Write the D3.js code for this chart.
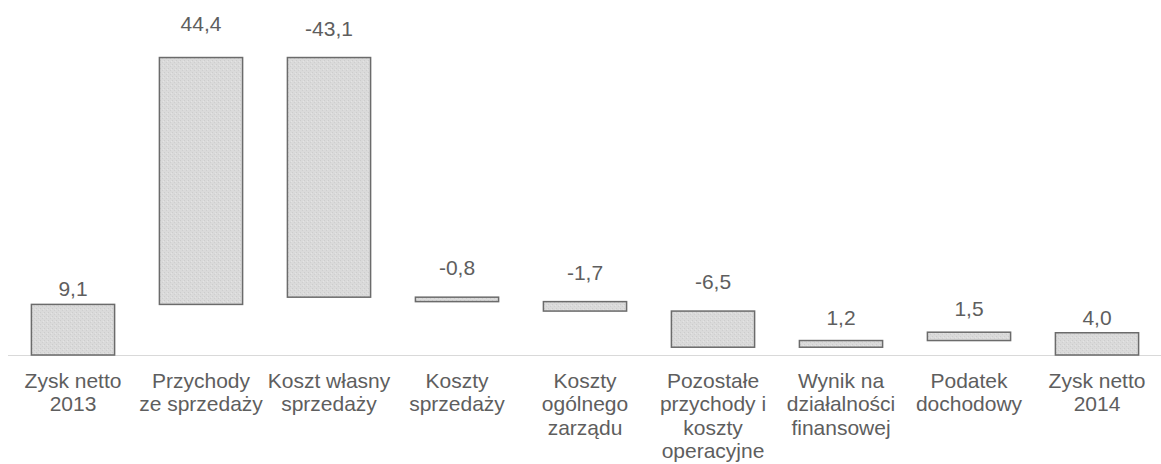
<!DOCTYPE html>
<html>
<head>
<meta charset="utf-8">
<script src="https://cdn.jsdelivr.net/npm/d3@7"></script>
<style>
  html, body { margin: 0; padding: 0; background: #fff; }
  svg text { font-family: "Liberation Sans", Arial, sans-serif; fill: #5e5e5e; }
</style>
</head>
<body>
<svg id="chart" width="1161" height="464"></svg>
<script>
// categories (line breaks as in the picture)
const categories = [
    "Zysk netto\n2013",
    "Przychody\nze sprzedaży",
    "Koszt własny\nsprzedaży",
    "Koszty\nsprzedaży",
    "Koszty\nogólnego\nzarządu",
    "Pozostałe\nprzychody i\nkoszty\noperacyjne",
    "Wynik na\ndziałalności\nfinansowej",
    "Podatek\ndochodowy",
    "Zysk netto\n2014"
];
const values = [9.1, 44.4, -43.1, -0.8, -1.7, -6.5, 1.2, 1.5, 4.0];
const isTotal = [true, false, false, false, false, false, false, false, true];

// distance from bar top to label baseline (px), as Excel placed them
const labelGap = [8, 27, 22, 22, 22, 22, 16, 16, 8];

const svg = d3.select("#chart");
const baseY = 355;
const fontSize = 21;

const x = d3.scaleBand()
    .domain(categories)
    .range([9, 1161])
    .paddingInner(0.35)
    .paddingOuter(0.175);

const y = d3.scaleLinear()
    .domain([0, 60])
    .range([baseY, baseY - 60 * 5.56]);

const pl = d3.formatLocale({ decimal: ",", thousands: " ", grouping: [3], currency: ["", " zł"], minus: "-" });
const fmt = pl.format(".1f");

// waterfall start/end
let run = 0;
const bars = values.map((v, i) => {
    let lo, hi;
    if (isTotal[i]) { lo = 0; hi = v; run = v; }
    else { const s = run; run += v; lo = Math.min(s, run); hi = Math.max(s, run); }
    return { cat: categories[i], v, lo, hi, gap: labelGap[i] };
});

// stippled fill like the original
const defs = svg.append("defs");
const pat = defs.append("pattern")
    .attr("id", "stipple")
    .attr("width", 4).attr("height", 4)
    .attr("patternUnits", "userSpaceOnUse");
pat.append("rect").attr("width", 4).attr("height", 4).attr("fill", "#dadada");
pat.append("rect").attr("x", 0).attr("y", 0).attr("width", 1).attr("height", 1).attr("fill", "#cccccc");
pat.append("rect").attr("x", 2).attr("y", 2).attr("width", 1).attr("height", 1).attr("fill", "#cecece");
pat.append("rect").attr("x", 3).attr("y", 1).attr("width", 1).attr("height", 1).attr("fill", "#e4e4e4");

// baseline
svg.append("line")
    .attr("x1", 8).attr("x2", 1161)
    .attr("y1", y(0) + 0.5).attr("y2", y(0) + 0.5)
    .attr("stroke", "#d9d9d9")
    .attr("stroke-width", 1);

svg.append("g")
    .selectAll("rect")
    .data(bars)
    .enter().append("rect")
    .attr("x", d => x(d.cat))
    .attr("y", d => y(d.hi))
    .attr("width", x.bandwidth())
    .attr("height", d => Math.max(1, y(d.lo) - y(d.hi)))
    .attr("fill", "url(#stipple)")
    .attr("stroke", "#6b6b6b")
    .attr("stroke-width", 1.5);

svg.append("g")
    .selectAll("text")
    .data(bars)
    .enter().append("text")
    .attr("x", d => x(d.cat) + x.bandwidth() / 2)
    .attr("y", d => y(d.hi) - d.gap)
    .attr("text-anchor", "middle")
    .attr("font-size", fontSize)
    .text(d => fmt(d.v));

// category labels
const catG = svg.append("g");
categories.forEach(c => {
    const t = catG.append("text")
        .attr("x", x(c) + x.bandwidth() / 2)
        .attr("y", 388)
        .attr("text-anchor", "middle")
        .attr("font-size", fontSize);
    c.split("\n").forEach((line, k) => {
        t.append("tspan")
            .attr("x", x(c) + x.bandwidth() / 2)
            .attr("y", 388 + k * 23.3)
            .text(line);
    });
});
</script>
</body>
</html>
